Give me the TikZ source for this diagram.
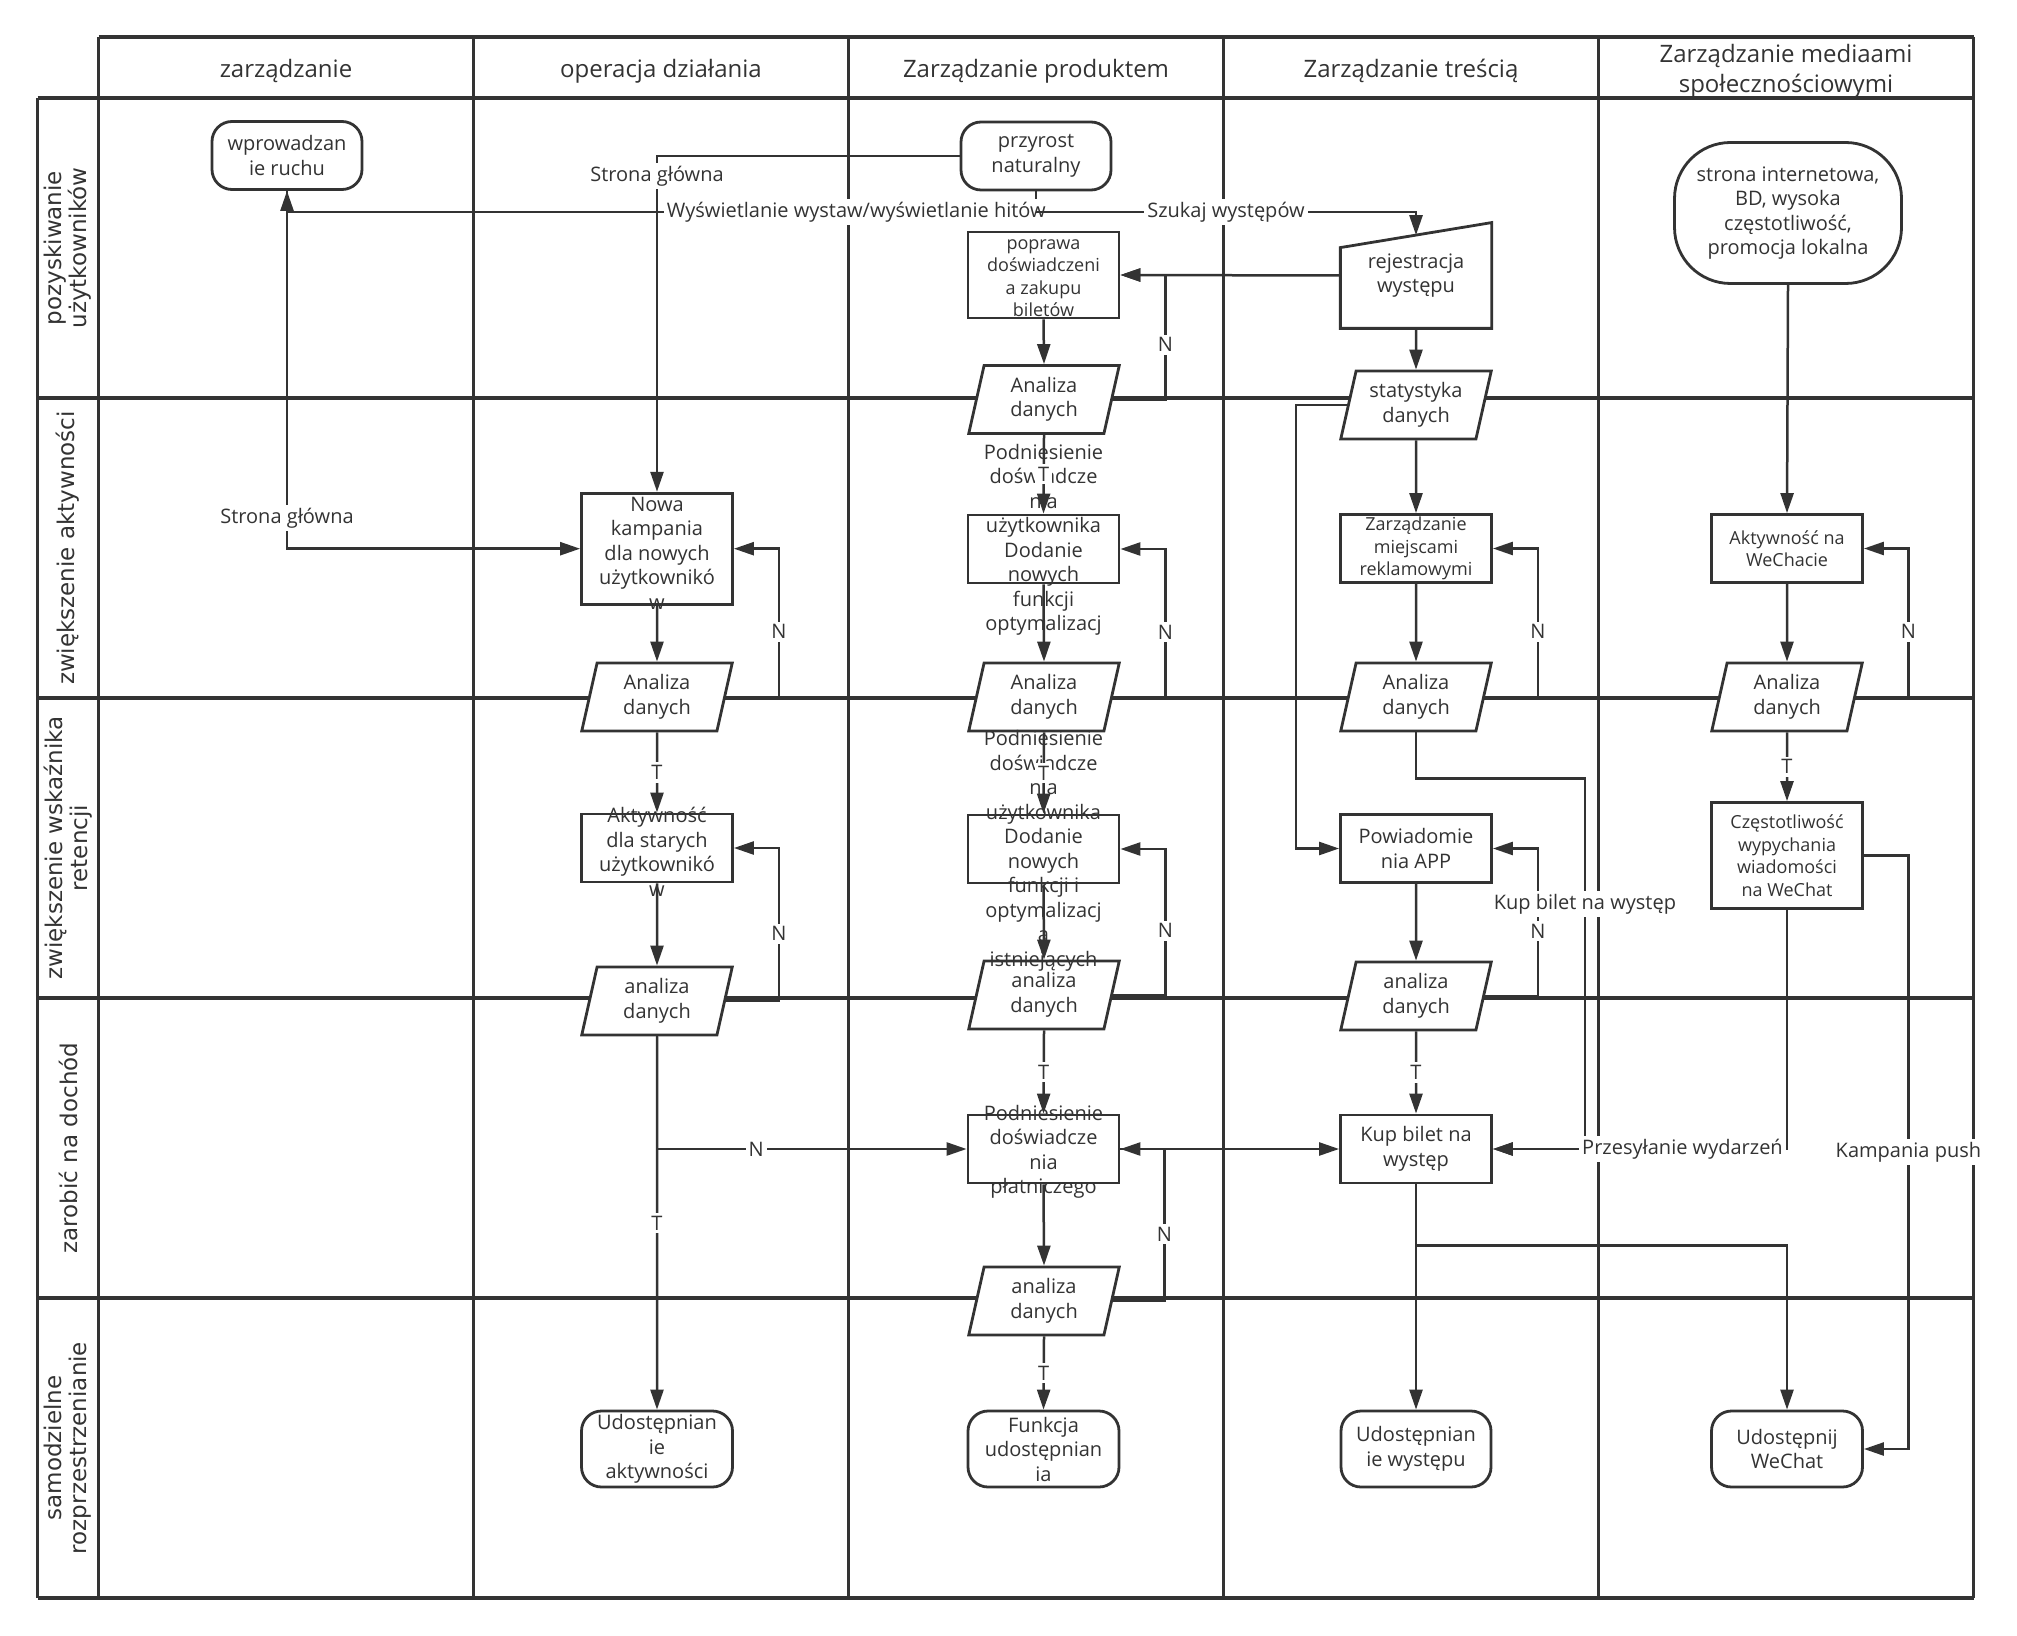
\documentclass[tikz,border=0pt]{standalone}
\usepackage{fontspec}
\setmainfont{Open Sans}
\newfontfamily\lanefont{DejaVu Sans}
\usetikzlibrary{arrows.meta,shapes.geometric,calc}
\definecolor{ln}{HTML}{333333}

\begin{document}
\begin{tikzpicture}[x=0.5pt,y=-0.5pt,font=\fontsize{10}{12.25}\selectfont,text=ln,
   grid/.style={draw=ln,line width=1.3pt},
   gridh/.style={draw=ln,line width=1.8pt},
   shp/.style={draw=ln,line width=1.4pt,fill=white,inner sep=0pt,align=center},
   box/.style={shp,rectangle,minimum width=75.5pt,minimum height=34pt},
   term/.style={shp,rounded corners=10pt,minimum width=75.5pt,minimum height=34pt},
   para/.style={shp,trapezium,trapezium left angle=71,trapezium right angle=109,
      trapezium stretches body,minimum width=75.25pt,minimum height=34pt},
   txt/.style={align=center,inner sep=0pt},
   small/.style={font=\fontsize{9}{11.25}\selectfont},
   arr/.style={draw=ln,line width=1.25pt,-{Triangle[length=10pt,width=6.5pt]}},
   lbl/.style={fill=white,inner sep=1.5pt},
   hdr/.style={font=\fontsize{12}{14.8}\selectfont,align=center},
   lane/.style={font=\lanefont\fontsize{11.5}{12.5}\selectfont,align=center,rotate=90}]
\useasboundingbox (0,0) rectangle (2017,1636);
% swimlane grid
\foreach \i in {0,...,5}{
   \draw[grid] (98.5+375*\i,37) -- (98.5+375*\i,1598);
   \draw[gridh] (37.5,98+300*\i) -- (1974,98+300*\i);}
\draw[gridh] (98.5,37) -- (1974,37);
\draw[grid] (37.5,98) -- (37.5,1598);
% column headers and lane titles
\foreach \t [count=\i from 0] in {zarządzanie,operacja działania,Zarządzanie produktem,
   Zarządzanie treścią,{Zarządzanie mediaami\\społecznościowymi}}
   \node[hdr] (h\i) at (286+375*\i,71) {\t};
\foreach \t [count=\i from 0] in {{pozyskiwanie\\użytkowników},zwiększenie aktywności,
   {zwiększenie wskaźnika\\retencji},zarobić na dochód,{samodzielne\\rozprzestrzenianie}}
   \node[lane] (l\i) at (68,248+300*\i) {\t};

% zarządzanie + operacja działania
\node[term,minimum width=75pt] (wpr) at (287,155.5) {wprowadzan\\ie ruchu};
\node[box,minimum height=55.5pt] (nowa) at (657,548.7) {};
\node[para] (an2) at (657,697) {Analiza\\danych};
\node[box] (akst) at (657,848) {};
\node[para] (an6) at (657,1001) {analiza\\danych};
\node[term,minimum height=38pt] (udak) at (657,1449) {Udostępnian\\ie\\aktywności};
\node[txt] (nowat) at (657,553) {Nowa\\kampania\\dla nowych\\użytkownikó\\w};
\node[txt] (akstt) at (657,852) {Aktywność\\dla starych\\użytkownikó\\w};

% Zarządzanie produktem
\node[term,minimum width=75pt] (przy) at (1036,156) {przyrost\\naturalny};
\node[box,minimum height=43pt] (popr) at (1043.5,275) {};
\node[para] (an1) at (1044,399.5) {Analiza\\danych};
\node[box] (pod1) at (1043.5,549) {};
\node[para] (an3) at (1044,697) {Analiza\\danych};
\node[box] (pod2) at (1043.5,849) {};
\node[para] (an7) at (1044,995) {analiza\\danych};
\node[box] (pod3) at (1043.5,1149) {};
\node[para] (an9) at (1044,1301) {analiza\\danych};
\node[term,minimum height=38pt] (fun) at (1043.5,1449) {Funkcja\\udostępnian\\ia};
\node[txt,small] (poprt) at (1043.5,278) {poprawa\\doświadczeni\\a zakupu\\biletów};
\node[txt] (pod1t) at (1043.5,540) {Podniesienie\\doświadcze\\nia\\użytkownika\\Dodanie\\nowych\\funkcji\\optymalizacj};
\node[txt] (pod2t) at (1043.5,851) {Podniesienie\\doświadcze\\nia\\użytkownika\\Dodanie\\nowych\\funkcji i\\optymalizacj\\a\\istniejących};
\node[txt] (pod3t) at (1043.5,1152) {Podniesienie\\doświadcze\\nia\\płatniczego};

% Zarządzanie treścią
\node[txt,minimum width=75.25pt,minimum height=52.5pt] (rej) at (1416,275.5) {rejestracja\\występu};
\draw[draw=ln,line width=1.4pt] (rej.south west) -- (rej.south east) -- (rej.north east)
   -- ($(rej.north west)+(0,25)$) -- cycle;
\coordinate (rejtop) at ($(rej.north)+(0,12.6)$);
\node[para] (stat) at (1416,405) {statystyka\\danych};
\node[box,small] (zmr) at (1416,548.5) {Zarządzanie\\miejscami\\reklamowymi};
\node[para] (an4) at (1416,697) {Analiza\\danych};
\node[box] (pow) at (1416,848.5) {Powiadomie\\nia APP};
\node[para] (an8) at (1416,996) {analiza\\danych};
\node[box] (kup) at (1416,1149) {Kup bilet na\\występ};
\node[term,minimum width=75pt,minimum height=38pt] (udw) at (1416,1449) {Udostępnian\\ie występu};

% Zarządzanie mediami społecznościowymi
\node[term,rounded corners=28pt,minimum width=113.5pt,minimum height=70.5pt] (www) at (1788,213)
   {strona internetowa,\\BD, wysoka\\częstotliwość,\\promocja lokalna};
\node[box,small] (wech) at (1787,548.5) {Aktywność na\\WeChacie};
\node[para] (an5) at (1787,697) {Analiza\\danych};
\node[box,small,minimum height=53pt] (czest) at (1787,855.5) {Częstotliwość\\wypychania\\wiadomości\\na WeChat};
\node[term,minimum height=38pt] (udwe) at (1787,1449) {Udostępnij\\WeChat};

% connectors
\coordinate (bus) at (1036,212);
\draw[arr] (przy.west) -| node[lbl,pos=0.53]{Strona główna} (nowa.north);
\draw[arr] (przy.south) -- (bus) -| node[lbl,pos=0.12]{Wyświetlanie wystaw/wyświetlanie hitów} (wpr.south);
\draw[arr] (bus) -| node[lbl,pos=0.25]{Szukaj występów} (rejtop);
\draw[arr] (wpr.south) |- node[lbl,pos=0.457]{Strona główna} (nowa.west);
\draw[arr] (rej.west) -- (popr.east);
\draw[arr] (popr.south) -- (an1.north);
\draw[arr] (an1.east) -| node[lbl,pos=0.72]{N} ($(popr.east)+(45,0)$) -- (popr.east);
\draw[arr] (an1.south) -- node[lbl]{T} (pod1.north);
\draw[arr] (pod1.south) -- (an3.north);
\draw[arr] (an3.east) -| node[lbl,pos=0.72]{N} ($(pod1.east)+(45,0)$) -- (pod1.east);
\draw[arr] (an3.south) -- node[lbl]{T} (pod2.north);
\draw[arr] (pod2.south) -- (an7.north);
\draw[arr] (an7.east) -| node[lbl,pos=0.72]{N} ($(pod2.east)+(45,0)$) -- (pod2.east);
\draw[arr] (an7.south) -- node[lbl]{T} (pod3.north);
\draw[arr] (pod3.south) -- (an9.north);
\draw[arr] (an9.east) -| node[lbl,pos=0.72]{N} ($(pod3.east)+(44,0)$) -- (pod3.east);
\draw[arr] (pod3.east) -- (kup.west);
\draw[arr] (an9.south) -- node[lbl]{T} (fun.north);
% operacja działania
\draw[arr] (nowa.south) -- (an2.north);
\draw[arr] (an2.east) -| node[lbl,pos=0.72]{N} ($(nowa.east)+(45,0)$) -- (nowa.east);
\draw[arr] (an2.south) -- node[lbl]{T} (akst.north);
\draw[arr] (akst.south) -- (an6.north);
\draw[arr] (an6.east) -| node[lbl,pos=0.72]{N} ($(akst.east)+(45,0)$) -- (akst.east);
\draw[arr] (an6.south) |- node[lbl,pos=0.66]{N} (pod3.west);
\draw[arr] (an6.south) -- node[lbl,pos=0.5]{T} (udak.north);
% treść
\draw[arr] (rej.south) -- (stat.north);
\draw[arr] (stat.south) -- (zmr.north);
\draw[arr] (stat.west) -| ($(pow.west)+(-43,0)$) -- (pow.west);
\draw[arr] (zmr.south) -- (an4.north);
\draw[arr] (an4.east) -| node[lbl,pos=0.72]{N} ($(zmr.east)+(45,0)$) -- (zmr.east);
\draw[arr] (pow.south) -- (an8.north);
\draw[arr] (an8.east) -| node[lbl,pos=0.72]{N} ($(pow.east)+(45,0)$) -- (pow.east);
\draw[arr] (an8.south) -- node[lbl]{T} (kup.north);
\draw[arr] (an4.south) -- ++(0,46) -| node[lbl,pos=0.67]{Kup bilet na występ} ($(kup.east)+(92,0)$) -- (kup.east);
\draw[arr] (kup.south) -- (udw.north);
\draw[arr] (kup.south) -- ++(0,61) -| (udwe.north);
% media
\draw[arr] (www.south) -- (wech.north);
\draw[arr] (wech.south) -- (an5.north);
\draw[arr] (an5.east) -| node[lbl,pos=0.72]{N} ($(wech.east)+(44.5,0)$) -- (wech.east);
\draw[arr] (an5.south) -- node[lbl]{T} (czest.north);
\draw[arr] (czest.south) |- node[lbl,pos=0.5,anchor=east]{Przesyłanie wydarzeń} (kup.east);
\draw[arr] (czest.east) -| node[lbl,pos=0.75]{Kampania push} ($(udwe.east)+(44.5,0)$) -- (udwe.east);
\end{tikzpicture}
\end{document}
